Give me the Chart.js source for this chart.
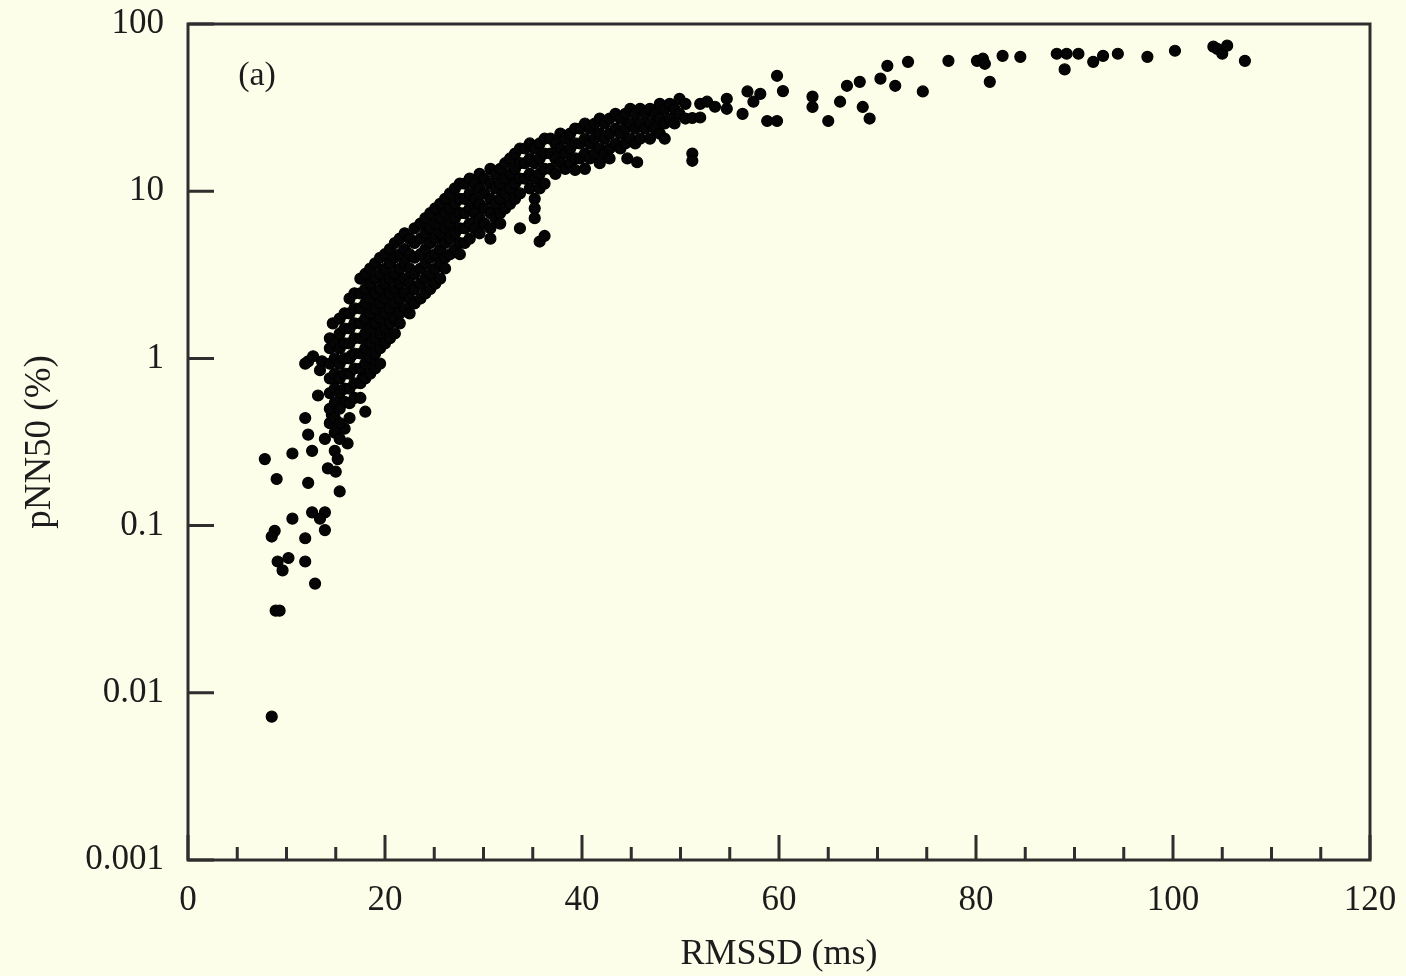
<!DOCTYPE html>
<html>
<head>
<meta charset="utf-8">
<title>pNN50 vs RMSSD</title>
<script src="https://cdn.jsdelivr.net/npm/chart.js@4.4.1/dist/chart.umd.min.js"></script>
<style>
    html, body { margin: 0; padding: 0; background: #fdfee9; }
    #wrap { width: 1406px; height: 976px; position: relative; }
</style>
</head>
<body>
<div id="wrap"><canvas id="hrvChart"></canvas></div>
<script>
// values: [RMSSD (ms), pNN50 (%)]
var tailPoints = [
    [7.8, 0.25], [9.0, 0.19], [10.6, 0.27], [12.6, 0.28], [12.2, 0.18], [15.4, 0.16],
    [12.6, 0.12], [13.9, 0.12], [10.6, 0.11], [8.8, 0.093], [11.9, 0.084], [13.9, 0.094],
    [9.1, 0.061], [10.2, 0.064], [11.9, 0.061], [12.9, 0.045], [9.6, 0.054], [8.9, 0.031],
    [9.3, 0.031], [8.5, 0.0072], [8.5, 0.086], [13.4, 0.11], [13.9, 0.33], [14.9, 0.28],
    [14.2, 0.22], [11.9, 0.44], [12.2, 0.35], [12.2, 0.96], [13.6, 0.96], [14.6, 0.76],
    [13.2, 0.60], [14.6, 0.46], [15.9, 0.55], [15.9, 0.38], [15.2, 1.32], [16.6, 1.04],
    [17.7, 0.76], [18.0, 0.48], [14.7, 1.62], [15.2, 0.25], [15.0, 0.21], [16.2, 0.31],
    [11.9, 0.93], [12.7, 1.03], [13.4, 0.85]
];

var bandPoints = [
    [14.4, 1.32], [14.4, 1.15], [14.4, 0.93], [14.4, 0.76], [14.4, 0.62], [14.4, 0.50], [14.4, 0.41],
    [14.9, 1.23], [14.9, 1.0], [14.9, 0.81], [14.9, 0.66], [14.9, 0.54], [14.9, 0.44], [14.9, 0.36],
    [15.4, 1.73], [15.4, 1.41], [15.4, 1.15], [15.4, 0.93], [15.4, 0.76], [15.4, 0.62], [15.4, 0.50], [15.4, 0.41], [15.4, 0.33],
    [15.9, 1.86], [15.9, 1.51], [15.9, 1.23], [15.9, 1.0], [15.9, 0.81], [15.9, 0.66],
    [16.4, 2.28], [16.4, 1.86], [16.4, 1.51], [16.4, 1.23], [16.4, 1.0], [16.4, 0.81], [16.4, 0.66], [16.4, 0.54], [16.4, 0.44],
    [16.9, 2.45], [16.9, 1.99], [16.9, 1.62], [16.9, 1.32], [16.9, 1.07], [16.9, 0.87], [16.9, 0.71], [16.9, 0.58],
    [17.5, 3.0], [17.5, 2.45], [17.5, 1.99], [17.5, 1.62], [17.5, 1.32], [17.5, 1.07], [17.5, 0.87], [17.5, 0.71], [17.5, 0.58],
    [18.0, 3.2], [18.0, 2.6], [18.0, 2.13], [18.0, 1.73], [18.0, 1.41], [18.0, 1.15], [18.0, 0.93], [18.0, 0.76],
    [18.5, 3.45], [18.5, 2.8], [18.5, 2.28], [18.5, 1.86], [18.5, 1.51], [18.5, 1.23], [18.5, 1.0], [18.5, 0.81],
    [19.0, 3.7], [19.0, 3.0], [19.0, 2.45], [19.0, 1.99], [19.0, 1.62], [19.0, 1.32], [19.0, 1.07], [19.0, 0.87],
    [19.5, 4.0], [19.5, 3.2], [19.5, 2.6], [19.5, 2.13], [19.5, 1.73], [19.5, 1.41], [19.5, 1.15], [19.5, 0.93],
    [20.0, 4.2], [20.0, 3.45], [20.0, 2.8], [20.0, 2.28], [20.0, 1.86], [20.0, 1.51], [20.0, 1.23],
    [20.5, 4.5], [20.5, 3.7], [20.5, 3.0], [20.5, 2.45], [20.5, 1.99], [20.5, 1.62], [20.5, 1.32],
    [21.0, 4.9], [21.0, 4.0], [21.0, 3.2], [21.0, 2.6], [21.0, 2.13], [21.0, 1.73], [21.0, 1.41],
    [21.5, 5.2], [21.5, 4.2], [21.5, 3.45], [21.5, 2.8], [21.5, 2.28], [21.5, 1.86], [21.5, 1.62],
    [22.0, 5.6], [22.0, 4.5], [22.0, 3.7], [22.0, 3.0], [22.0, 2.45], [22.0, 1.99],
    [22.5, 5.2], [22.5, 4.2], [22.5, 3.45], [22.5, 2.8], [22.5, 2.28], [22.5, 1.86],
    [23.0, 6.0], [23.0, 4.9], [23.0, 4.0], [23.0, 3.2], [23.0, 2.6], [23.0, 2.13],
    [23.6, 6.4], [23.6, 5.2], [23.6, 4.2], [23.6, 3.45], [23.6, 2.8], [23.6, 2.28],
    [24.1, 6.9], [24.1, 5.6], [24.1, 4.5], [24.1, 3.7], [24.1, 3.0], [24.1, 2.45],
    [24.6, 7.4], [24.6, 6.0], [24.6, 4.9], [24.6, 4.0], [24.6, 3.2], [24.6, 2.6],
    [25.1, 7.9], [25.1, 6.4], [25.1, 5.2], [25.1, 4.2], [25.1, 3.45], [25.1, 2.8],
    [25.6, 8.4], [25.6, 6.9], [25.6, 5.6], [25.6, 4.5], [25.6, 3.7], [25.6, 3.0],
    [26.1, 9.0], [26.1, 7.4], [26.1, 6.0], [26.1, 4.9], [26.1, 4.0], [26.1, 3.45],
    [26.6, 9.7], [26.6, 7.9], [26.6, 6.4], [26.6, 5.2], [26.6, 4.2],
    [27.1, 10.4], [27.1, 8.4], [27.1, 6.9], [27.1, 5.6], [27.1, 4.5],
    [27.6, 11.1], [27.6, 9.0], [27.6, 7.4], [27.6, 6.0], [27.6, 4.9], [27.6, 4.2],
    [28.1, 11.1], [28.1, 9.0], [28.1, 7.4], [28.1, 6.0], [28.1, 4.9],
    [28.6, 11.9], [28.6, 9.7], [28.6, 7.9], [28.6, 6.4], [28.6, 5.2],
    [29.1, 11.1], [29.1, 9.0], [29.1, 7.4], [29.1, 6.0],
    [29.6, 12.7], [29.6, 10.4], [29.6, 8.4], [29.6, 6.9], [29.6, 5.6],
    [30.1, 11.9], [30.1, 9.7], [30.1, 7.9], [30.1, 6.4],
    [30.7, 13.6], [30.7, 11.1], [30.7, 9.0], [30.7, 7.4], [30.7, 6.0], [30.7, 5.2],
    [31.2, 12.7], [31.2, 10.4], [31.2, 8.4], [31.2, 6.9],
    [31.7, 13.6], [31.7, 11.1], [31.7, 9.0], [31.7, 7.4], [31.7, 6.4],
    [32.2, 14.7], [32.2, 11.9], [32.2, 9.7], [32.2, 7.9],
    [32.7, 15.7], [32.7, 12.7], [32.7, 10.4], [32.7, 8.4],
    [33.2, 16.8], [33.2, 13.6], [33.2, 11.1], [33.2, 9.0],
    [33.7, 18.0], [33.7, 14.7], [33.7, 11.9], [33.7, 9.7], [33.7, 6.0],
    [34.2, 18.0], [34.2, 14.7], [34.2, 11.9],
    [34.7, 19.3], [34.7, 15.7], [34.7, 12.7], [34.7, 10.4],
    [35.2, 18.0], [35.2, 14.7], [35.2, 11.9], [35.2, 9.0], [35.2, 7.9], [35.2, 6.9],
    [35.7, 19.3], [35.7, 15.7], [35.7, 12.7], [35.7, 10.4], [35.7, 5.0],
    [36.2, 20.6], [36.2, 16.8], [36.2, 13.6], [36.2, 11.1], [36.2, 5.4],
    [36.8, 20.6], [36.8, 16.8], [36.8, 13.6],
    [37.3, 19.3], [37.3, 15.7], [37.3, 12.7],
    [37.8, 22.1], [37.8, 18.0], [37.8, 14.7],
    [38.3, 20.6], [38.3, 16.8], [38.3, 13.6],
    [38.8, 22.1], [38.8, 18.0], [38.8, 14.7],
    [39.3, 23.7], [39.3, 19.3], [39.3, 15.7], [39.3, 13.4],
    [39.8, 23.7], [39.8, 19.3], [39.8, 15.7],
    [40.3, 25.4], [40.3, 20.6], [40.3, 16.8], [40.3, 13.6],
    [40.8, 23.7], [40.8, 19.3], [40.8, 15.7],
    [41.3, 25.4], [41.3, 20.6], [41.3, 16.8],
    [41.8, 27.2], [41.8, 22.1], [41.8, 18.0], [41.8, 14.7],
    [42.3, 25.4], [42.3, 20.6], [42.3, 16.8],
    [42.8, 27.2], [42.8, 22.1], [42.8, 18.0], [42.8, 15.7],
    [43.4, 29.0], [43.4, 23.7], [43.4, 19.3],
    [43.9, 27.2], [43.9, 22.1], [43.9, 18.0],
    [44.4, 29.0], [44.4, 23.7], [44.4, 19.3],
    [44.6, 15.7], [45.6, 14.9],
    [44.9, 31.1], [44.9, 25.4], [44.9, 20.6],
    [45.4, 29.0], [45.4, 23.7], [45.4, 19.3],
    [45.9, 31.1], [45.9, 25.4], [45.9, 20.6],
    [46.4, 29.0], [46.4, 23.7],
    [46.9, 31.1], [46.9, 25.4], [46.9, 20.6],
    [47.4, 29.0], [47.4, 23.7],
    [47.9, 33.3], [47.9, 27.2], [47.9, 22.1],
    [48.4, 31.1], [48.4, 25.4], [48.4, 20.6],
    [48.9, 33.3], [48.9, 27.2],
    [49.4, 31.1], [49.4, 25.4],
    [49.9, 35.7], [49.9, 29.0],
    [50.5, 33.3], [50.5, 27.2]
];

var plateauPoints = [
    [51.2, 27.4], [51.2, 16.8], [51.2, 15.2], [52.0, 33.3], [52.0, 27.6], [52.7, 34.3],
    [53.5, 32.0], [54.7, 35.7], [54.7, 31.1], [56.3, 29.0], [56.8, 39.5], [57.4, 34.3],
    [58.1, 38.2], [58.8, 26.3], [59.8, 26.3], [59.8, 49.0], [60.4, 39.7], [63.4, 36.8],
    [63.4, 31.9], [65.0, 26.3], [66.2, 34.3], [66.9, 42.7], [68.2, 45.1], [68.5, 31.9],
    [69.2, 27.2], [70.3, 47.1], [71.0, 56.2], [71.8, 42.7], [73.1, 59.4], [74.6, 39.5],
    [77.2, 60.2], [80.1, 60.2], [80.7, 62.0], [80.9, 57.8], [81.4, 45.1], [82.7, 64.5],
    [84.5, 63.6], [88.2, 66.4], [89.0, 53.5], [89.2, 66.4], [90.4, 66.4], [91.9, 59.4],
    [92.9, 64.5], [94.4, 66.4], [97.4, 63.6], [100.2, 69.2], [104.1, 73.2], [104.5, 71.0],
    [105.0, 66.4], [105.5, 74.2], [107.3, 60.2]
];

var xMajorTicks = [0, 20, 40, 60, 80, 100, 120];
var xMinorTicks = [5, 10, 15, 25, 30, 35, 45, 50, 55, 65, 70, 75, 85, 90, 95, 105, 110, 115];
var yTicks = [0.001, 0.01, 0.1, 1, 10, 100];
var yTickLabels = ['0.001', '0.01', '0.1', '1', '10', '100'];

(function() {
    'use strict';

    var inkColor = '#1c1c1c';
    var axisColor = '#2e2e2e';
    var serif = '"Liberation Serif", "Times New Roman", serif';

    var points = tailPoints.concat(bandPoints, plateauPoints).map(function(p) {
        return { x: p[0], y: p[1] };
    });

    // frame, inward tick marks and the panel tag
    var framePlugin = {
        id: 'frame',
        afterDatasetsDraw: function(chart) {
            var ctx = chart.ctx;
            var area = chart.chartArea;
            var xs = chart.scales.x;
            var ys = chart.scales.y;

            ctx.save();
            ctx.strokeStyle = axisColor;
            ctx.lineWidth = 3;
            ctx.strokeRect(area.left, area.top, area.right - area.left, area.bottom - area.top);

            ctx.beginPath();
            xMajorTicks.forEach(function(v) {
                var px = xs.getPixelForValue(v);
                ctx.moveTo(px, area.bottom);
                ctx.lineTo(px, area.bottom - 25);
            });
            xMinorTicks.forEach(function(v) {
                var px = xs.getPixelForValue(v);
                ctx.moveTo(px, area.bottom);
                ctx.lineTo(px, area.bottom - 13);
            });
            yTicks.forEach(function(v) {
                var py = ys.getPixelForValue(v);
                ctx.moveTo(area.left, py);
                ctx.lineTo(area.left + 26, py);
            });
            ctx.stroke();

            ctx.fillStyle = inkColor;
            ctx.font = '34px ' + serif;
            ctx.textAlign = 'center';
            ctx.textBaseline = 'middle';
            ctx.fillText('(a)', area.left + 69, area.top + 52);
            ctx.restore();
        }
    };

    new Chart(document.getElementById('hrvChart'), {
        type: 'scatter',
        data: {
            datasets: [{
                label: 'pNN50',
                data: points,
                pointRadius: 5.5,
                pointBorderWidth: 1.2,
                pointBackgroundColor: '#050505',
                pointBorderColor: '#000000'
            }]
        },
        options: {
            responsive: true,
            maintainAspectRatio: false,
            animation: false,
            events: [],
            layout: {
                padding: { top: 24, right: 36, bottom: 0, left: 18 }
            },
            plugins: {
                legend: { display: false },
                tooltip: { enabled: false }
            },
            scales: {
                x: {
                    type: 'linear',
                    min: 0,
                    max: 120,
                    grid: { display: false },
                    border: { display: false },
                    ticks: {
                        stepSize: 20,
                        padding: 12,
                        color: inkColor,
                        font: { family: serif, size: 35 }
                    },
                    title: {
                        display: true,
                        text: 'RMSSD (ms)',
                        color: inkColor,
                        padding: 0,
                        font: { family: serif, size: 36 }
                    },
                    afterFit: function(scale) {
                        scale.height = 116;
                        scale.paddingLeft = 0;
                        scale.paddingRight = 0;
                    }
                },
                y: {
                    type: 'logarithmic',
                    min: 0.001,
                    max: 100,
                    grid: { display: false },
                    border: { display: false },
                    afterBuildTicks: function(scale) {
                        scale.ticks = yTicks.map(function(v) {
                            return { value: v };
                        });
                    },
                    ticks: {
                        padding: 16,
                        color: inkColor,
                        font: { family: serif, size: 35 },
                        callback: function(value) {
                            return yTickLabels[yTicks.indexOf(value)];
                        }
                    },
                    title: {
                        display: true,
                        text: 'pNN50 (%)',
                        color: inkColor,
                        padding: 0,
                        font: { family: serif, size: 37 }
                    },
                    afterFit: function(scale) {
                        scale.width = 170;
                        scale.paddingTop = 0;
                        scale.paddingBottom = 0;
                    }
                }
            }
        },
        plugins: [framePlugin]
    });
})();
</script>
</body>
</html>
